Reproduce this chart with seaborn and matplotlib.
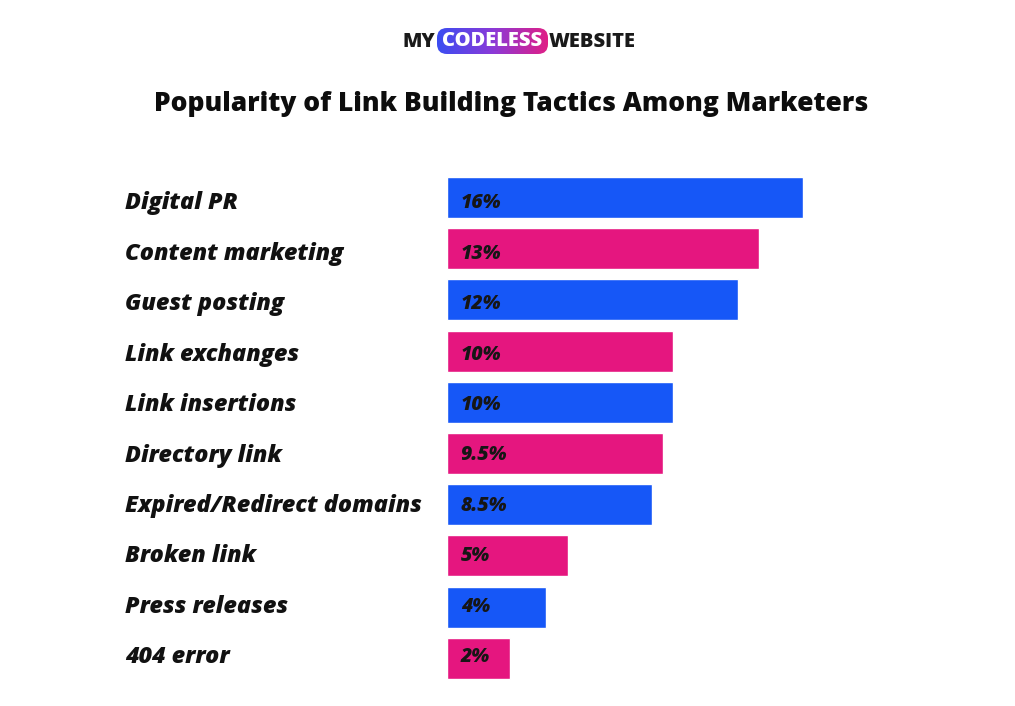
import numpy as np
import pandas as pd
import matplotlib
matplotlib.use("Agg")
import matplotlib.pyplot as plt
from matplotlib.patches import FancyBboxPatch
from matplotlib.colors import LinearSegmentedColormap
import seaborn as sns

# ---- data ----
categories = ["Digital PR", "Content marketing", "Guest posting", "Link exchanges",
              "Link insertions", "Directory link", "Expired/Redirect domains",
              "Broken link", "Press releases", "404 error"]
value_labels = ["16%", "13%", "12%", "10%", "10%", "9.5%", "8.5%", "5%", "4%", "2%"]
# visual bar lengths as drawn in the picture (percent units)
bar_lengths = [16.0, 14.0, 13.1, 10.15, 10.15, 9.7, 9.2, 5.45, 4.45, 2.85]
bar_colors = ["#1657F7", "#E5167F"] * 5

title = "Popularity of Link Building Tactics Among Marketers"

sns.set_theme(style="white")
FONT = ["Open Sans", "DejaVu Sans"]
plt.rcParams["font.family"] = FONT

W, H = 1015, 706
fig = plt.figure(figsize=(W / 100, H / 100), dpi=100)
fig.patch.set_facecolor("white")

# main axes in pixel layout
pitch = 51.2
top = 197.5 - pitch / 2
ax_h = pitch * 10
ax_left = 447
ax_w = 22.25 * 20
ax = fig.add_axes([ax_left / W, 1 - (top + ax_h) / H, ax_w / W, ax_h / H])

df = pd.DataFrame({"cat": categories, "len": bar_lengths})
sns.barplot(data=df, x="len", y="cat", hue="cat", palette=bar_colors,
            legend=False, width=0.8, saturation=1, ax=ax, orient="h")
ax.set_xlim(0, 20)
ax.set_ylim(9.5, -0.5)
ax.axis("off")

# text rows (slightly different spacing from the bars in the reference)
for i, (cat, lab) in enumerate(zip(categories, value_labels)):
    ty = 1 - (203.5 + 50.4 * i) / H
    fig.text(125 / W, ty, cat, ha="left", va="center",
             fontsize=16.8, fontweight="heavy", fontstyle="italic", color="#111111")
    fig.text(461 / W, ty, lab, ha="left", va="center", fontsize=14,
             fontweight="heavy", fontstyle="italic", color="#161616")

# title
fig.text(511 / W, 1 - 104 / H, title, ha="center", va="center",
         fontsize=19, fontweight="heavy", color="#0d0d0d")

# logo
logo_y = 1 - 42 / H
fig.text(435 / W, logo_y, "MY", ha="right", va="center", fontsize=14.5,
         fontweight="heavy", color="#1a1a1a")
fig.text(549 / W, logo_y, "WEBSITE", ha="left", va="center", fontsize=14.5,
         fontweight="heavy", color="#1a1a1a")
bx, by, bw, bh = 437, 28, 111, 26
lax = fig.add_axes([bx / W, 1 - (by + bh) / H, bw / W, bh / H])
lax.set_xlim(0, bw)
lax.set_ylim(0, bh)
lax.axis("off")
cmap = LinearSegmentedColormap.from_list("logo", ["#3A4DF2", "#8A3AD8", "#E01F86"])
grad = np.linspace(0, 1, 256).reshape(1, -1)
im = lax.imshow(grad, cmap=cmap, extent=[0, bw, 0, bh], aspect="auto")
patch = FancyBboxPatch((0, 0), bw, bh, boxstyle="round,pad=0,rounding_size=10",
                       transform=lax.transData, facecolor="none", edgecolor="none")
lax.add_patch(patch)
im.set_clip_path(patch)
lax.text(bw / 2, bh / 2, "CODELESS", ha="center", va="center", fontsize=14.5,
         fontweight="heavy", color="white")

fig.savefig("out.png", dpi=100, facecolor="white")
